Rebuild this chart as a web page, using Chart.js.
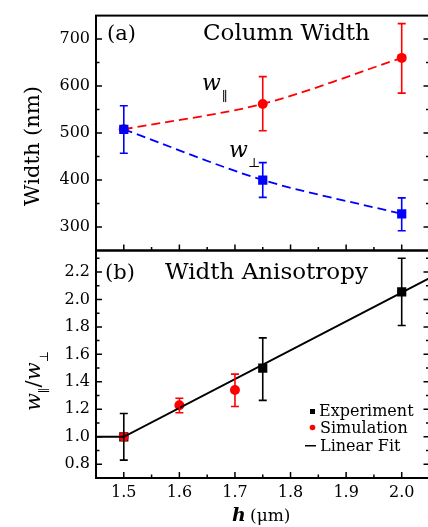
<!DOCTYPE html>
<html>
<head>
<meta charset="utf-8">
<script src="https://cdn.jsdelivr.net/npm/chart.js@4/dist/chart.umd.min.js"></script>
<style>
html,body{margin:0;padding:0;background:#fff;overflow:hidden;width:428px;height:527px}
#wrap{position:relative;width:436px;height:527px}
canvas{position:absolute;left:0;top:0}
</style>
</head>
<body>
<div id="wrap">
  <canvas id="topChart" width="436" height="527"></canvas>
  <canvas id="botChart" width="436" height="527"></canvas>
</div>
<script>
// (a) column width
const hPts = [1.5, 1.75, 2.0];
const wPar = [508, 562, 660];
const wParLo = [null, 505, 585];
const wParHi = [null, 620, 733];
const wPerp = [508, 400, 328];
const wPerpLo = [457, 363, 292];
const wPerpHi = [558, 437, 362];

// (b) width anisotropy
const expH = [1.5, 1.75, 2.0];
const expRatio = [1.0, 1.50, 2.055];
const expLo = [0.83, 1.265, 1.81];
const expHi = [1.17, 1.72, 2.30];
const simH = [1.5, 1.6, 1.7];
const simRatio = [1.0, 1.23, 1.34];
const simLo = [null, 1.175, 1.22];
const simHi = [null, 1.28, 1.456];
const fitH = [1.45, 1.5, 2.05];
const fitRatio = [1.0, 1.0, 2.155];

// ticks
const xTicks = [1.5, 1.6, 1.7, 1.8, 1.9, 2.0];
const xMinor = [1.55, 1.65, 1.75, 1.85, 1.95];
const topYTicks = [300, 400, 500, 600, 700];
const topYMinor = [350, 450, 550, 650];
const botYTicks = [0.8, 1.0, 1.2, 1.4, 1.6, 1.8, 2.0, 2.2];
const botYMinor = [0.9, 1.1, 1.3, 1.5, 1.7, 1.9, 2.1, 2.3];

const SERIF = '"DejaVu Serif", "Liberation Serif", serif';
const pts = (xs, ys) => xs.map((x, i) => ({ x, y: ys[i] }));

const decor = {
  id: 'decor',
  afterDatasetsDraw(chart, args, o){
    const { ctx, chartArea: a, scales: { x, y } } = chart;
    ctx.save();
    // error bars
    o.bars.forEach(b => {
      ctx.strokeStyle = b.color; ctx.lineWidth = 1.6;
      b.xs.forEach((xv, i) => {
        if(b.lo[i] == null) return;
        const px = x.getPixelForValue(xv), p1 = y.getPixelForValue(b.lo[i]), p2 = y.getPixelForValue(b.hi[i]);
        ctx.beginPath();
        ctx.moveTo(px, p1); ctx.lineTo(px, p2);
        ctx.moveTo(px - 4, p1); ctx.lineTo(px + 4, p1);
        ctx.moveTo(px - 4, p2); ctx.lineTo(px + 4, p2);
        ctx.stroke();
      });
    });
    // frame
    ctx.strokeStyle = '#000'; ctx.lineWidth = 2;
    ctx.strokeRect(a.left, a.top, a.right - a.left, a.bottom - a.top);
    // inward ticks
    ctx.lineWidth = 1.5;
    ctx.beginPath();
    const tx = (v, len) => { const p = x.getPixelForValue(v); ctx.moveTo(p, a.bottom); ctx.lineTo(p, a.bottom - len); };
    const ty = (v, len) => { const p = y.getPixelForValue(v);
      ctx.moveTo(a.left, p); ctx.lineTo(a.left + len, p);
      ctx.moveTo(a.right, p); ctx.lineTo(a.right - len, p); };
    xTicks.forEach(v => tx(v, 6)); xMinor.forEach(v => tx(v, 3.5));
    o.yMajor.forEach(v => ty(v, 6)); o.yMinor.forEach(v => ty(v, 3.5));
    ctx.stroke();
    ctx.restore();
  },
  afterDraw(chart, args, o){
    const ctx = chart.ctx;
    ctx.save();
    ctx.fillStyle = '#000';
    o.texts(ctx);
    ctx.restore();
  }
};

function makeChart(id, datasets, yMin, yMax, yTicks, yMinor, showX, pad, bars, texts){
  return new Chart(document.getElementById(id), {
    type: 'scatter',
    data: { datasets },
    options: {
      responsive: false, animation: false, events: [],
      layout: { padding: pad },
      plugins: { legend: { display: false }, tooltip: { enabled: false },
        decor: { bars, yMajor: yTicks, yMinor, texts } },
      scales: {
        x: { type: 'linear', min: 1.45, max: 2.05, display: showX ? true : false,
          grid: { display: false, drawTicks: false }, border: { display: false },
          afterBuildTicks: s => { s.ticks = xTicks.map(v => ({ value: v })); },
          afterFit: s => { s.height = showX ? 24 : 0; },
          ticks: { padding: 5, color: '#000', font: { family: SERIF, size: 16 },
            autoSkip: false, maxRotation: 0, callback: v => v.toFixed(1) } },
        y: { min: yMin, max: yMax,
          grid: { display: false, drawTicks: false }, border: { display: false },
          afterBuildTicks: s => { s.ticks = yTicks.map(v => ({ value: v })); },
          afterFit: s => { s.width = 96; },
          ticks: { padding: 6, color: '#000', font: { family: SERIF, size: 16 },
            callback: v => yMax < 10 ? v.toFixed(1) : String(v) } }
      }
    },
    plugins: [decor]
  });
}

makeChart('topChart', [
  { data: pts(hPts, wPerp), showLine: true, borderColor: '#0000ff', backgroundColor: '#0000ff',
    borderDash: [9, 5], borderWidth: 1.8, tension: 0.3, pointStyle: 'rect', pointRadius: 6.5, pointBorderWidth: 0, order: 1 },
  { data: pts(hPts, wPar), showLine: true, borderColor: '#ff0000', backgroundColor: '#ff0000',
    borderDash: [9, 5], borderWidth: 1.8, tension: 0.3, pointStyle: 'circle', pointRadius: 5, pointBorderWidth: 0, order: 2 }
], 250, 750, topYTicks, topYMinor, false, { top: 10.7, right: 5, left: 0, bottom: 276.5 },
[ { xs: hPts, lo: wParLo, hi: wParHi, color: '#ff0000' },
  { xs: hPts, lo: wPerpLo, hi: wPerpHi, color: '#0000ff' } ],
ctx => {
  ctx.font = '21px ' + SERIF; ctx.fillText('(a)', 107, 40);
  ctx.font = '23px ' + SERIF; ctx.fillText('Column Width', 203, 39.5);
  ctx.font = 'italic 22px ' + SERIF; ctx.fillText('w', 202, 89.5); ctx.fillText('w', 229, 156.5);
  ctx.font = '13px ' + SERIF; ctx.fillText('∥', 222, 101); ctx.fillText('⊥', 248, 167);
  ctx.save();
  ctx.translate(34, 146); ctx.rotate(-Math.PI / 2);
  ctx.font = '21px ' + SERIF; ctx.textAlign = 'center'; ctx.textBaseline = 'middle';
  ctx.fillText('Width (nm)', 0, 0);
  ctx.restore();
});

makeChart('botChart', [
  { data: pts(fitH, fitRatio), showLine: true, borderColor: '#000', borderWidth: 2, pointRadius: 0, order: 1 },
  { data: pts(simH, simRatio), backgroundColor: '#ff0000', pointStyle: 'circle', pointRadius: 5, pointBorderWidth: 0, order: 2 },
  { data: pts(expH, expRatio), backgroundColor: '#000', pointStyle: 'rect', pointRadius: 6.5, pointBorderWidth: 0, order: 3 }
], 0.7, 2.356, botYTicks, botYMinor, true, { top: 250.5, right: 5, left: 0, bottom: 25 },
[ { xs: simH, lo: simLo, hi: simHi, color: '#ff0000' },
  { xs: expH, lo: expLo, hi: expHi, color: '#000' } ],
ctx => {
  ctx.font = '21px ' + SERIF; ctx.fillText('(b)', 105, 279);
  ctx.font = '23px ' + SERIF; ctx.fillText('Width Anisotropy', 165, 278.5);
  // legend
  ctx.font = '16px ' + SERIF;
  ctx.fillRect(310, 409, 5, 5); ctx.fillText('Experiment', 319, 416);
  ctx.fillStyle = '#ff0000'; ctx.beginPath(); ctx.arc(312.5, 427.5, 2.8, 0, Math.PI * 2); ctx.fill();
  ctx.fillStyle = '#000'; ctx.fillText('Simulation', 320, 433);
  ctx.fillRect(305, 445, 11, 1.5); ctx.fillText('Linear Fit', 320, 450.5);
  // x title
  ctx.font = 'bold italic 19px ' + SERIF; ctx.fillText('h', 232, 521);
  ctx.font = '17px ' + SERIF; ctx.fillText('(μm)', 250, 521);
  // y title
  ctx.save();
  ctx.translate(34, 381); ctx.rotate(-Math.PI / 2);
  const big = 'italic 21px ' + SERIF, small = '12px ' + SERIF;
  const parts = [['w', big, 0], ['∥', small, 8], ['/', '21px ' + SERIF, 0], ['w', big, 0], ['⊥', small, 8]];
  let total = 0;
  parts.forEach(p => { ctx.font = p[1]; total += ctx.measureText(p[0]).width; });
  let cx = -total / 2;
  parts.forEach(p => { ctx.font = p[1]; ctx.fillText(p[0], cx, 6 + p[2]); cx += ctx.measureText(p[0]).width; });
  ctx.restore();
});
</script>
</body>
</html>
